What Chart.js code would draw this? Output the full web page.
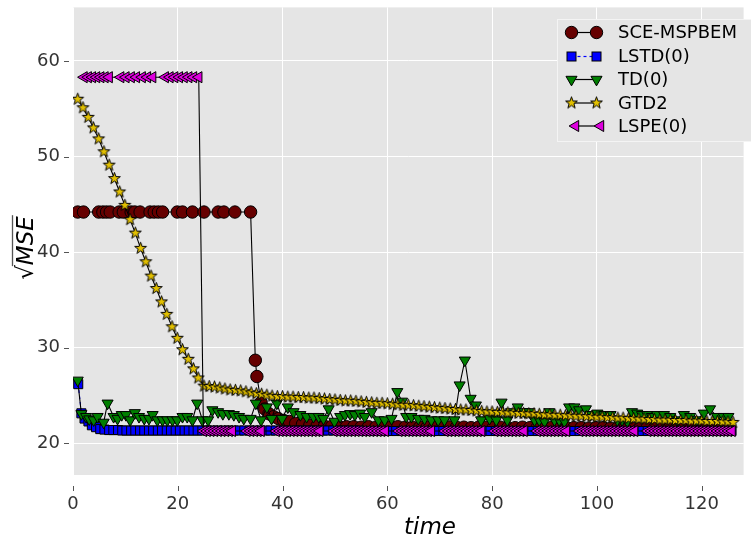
<!DOCTYPE html>
<html>
<head>
<meta charset="utf-8">
<script src="https://cdn.jsdelivr.net/npm/chart.js@4.4.1/dist/chart.umd.min.js"></script>
<style>
  html, body { margin: 0; padding: 0; background: #fff; }
  canvas { display: block; }
</style>
</head>
<body>
<canvas id="chart" width="751" height="539"></canvas>
<script>
// ticks
const xTicks = [0, 20, 40, 60, 80, 100, 120];
const yTicks = [20, 30, 40, 50, 60];

// SCE-MSPBEM
const sceTime = [
  0.9, 2.0, 4.9, 5.7, 6.4, 7.1, 8.8, 9.6, 11.1, 11.8,
  12.8, 14.7, 15.5, 16.3, 17.1, 19.9, 20.9, 22.8, 25.0, 27.7,
  28.8, 30.9, 33.9, 34.8, 35.1, 35.9, 36.6, 37.4, 38.3, 39.2,
  40.2, 41.3, 42.5, 43.8, 45.2, 46.6, 48.0, 49.4, 50.8, 52.2,
  53.6, 55.0, 56.4, 57.8, 59.2, 60.6, 62.0, 63.4, 64.8, 66.2,
  67.6, 69.0, 70.4, 71.8, 73.2, 74.6, 76.0, 77.4, 78.8, 80.2,
  81.6, 83.0, 84.4, 85.8, 87.2, 88.6, 90.0, 91.4, 92.8, 94.2,
  95.6, 97.0, 98.4, 99.8, 101.2, 102.6, 104.0, 105.4, 106.8, 108.2,
  109.6, 111.0, 112.4, 113.8, 115.2, 116.6, 118.0, 119.4, 120.8, 122.2,
  123.6, 125.0
];
const sceMse = [
  44.2, 44.2, 44.2, 44.2, 44.2, 44.2, 44.2, 44.2, 44.2, 44.2,
  44.2, 44.2, 44.2, 44.2, 44.2, 44.2, 44.2, 44.2, 44.2, 44.2,
  44.2, 44.2, 44.2, 28.7, 27.0, 24.3, 23.6, 23.1, 22.8, 22.6,
  22.4, 22.3, 22.1, 22.0, 21.9, 21.85, 21.8, 21.8, 21.75, 21.75,
  21.75, 21.7, 21.75, 21.7, 21.7, 21.7, 21.75, 21.7, 21.7, 21.7,
  21.7, 21.7, 21.65, 21.7, 21.7, 21.7, 21.65, 21.7, 21.7, 21.65,
  21.7, 21.65, 21.65, 21.7, 21.65, 21.65, 21.65, 21.7, 21.65, 21.65,
  21.65, 21.65, 21.6, 21.65, 21.65, 21.6, 21.65, 21.65, 21.6, 21.6,
  21.65, 21.6, 21.6, 21.6, 21.65, 21.6, 21.6, 21.6, 21.6, 21.6,
  21.6, 21.6
];

// LSTD(0)
const lstdTime = [
  1.0, 1.6, 2.2, 2.95, 3.6, 4.4, 5.2, 6.0, 6.9, 7.7,
  8.6, 9.4, 10.2, 11.1, 11.9, 12.8, 13.6, 14.5, 15.3, 16.2,
  17.0, 17.9, 18.7, 19.6, 20.4, 21.3, 22.1, 23.0, 23.8, 24.7,
  25.7, 26.7, 27.7, 28.7, 29.7, 30.7, 31.7, 32.7, 33.7, 34.7,
  35.7, 36.7, 37.7, 38.7, 39.7, 40.7, 41.7, 42.7, 43.7, 44.7,
  45.7, 46.7, 47.7, 48.7, 49.7, 50.7, 51.7, 52.7, 53.7, 54.7,
  55.7, 56.7, 57.7, 58.7, 59.7, 60.7, 61.7, 62.7, 63.7, 64.7,
  65.7, 66.7, 67.7, 68.7, 69.7, 70.7, 71.7, 72.7, 73.7, 74.7,
  75.7, 76.7, 77.7, 78.7, 79.7, 80.7, 81.7, 82.7, 83.7, 84.7,
  85.7, 86.7, 87.7, 88.7, 89.7, 90.7, 91.7, 92.7, 93.7, 94.7,
  95.7, 96.7, 97.7, 98.7, 99.7, 100.7, 101.7, 102.7, 103.7, 104.7,
  105.7, 106.7, 107.7, 108.7, 109.7, 110.7, 111.7, 112.7, 113.7, 114.7,
  115.7, 116.7, 117.7, 118.7, 119.7, 120.7, 121.7, 122.7, 123.7, 124.7,
  125.7
];
const lstdMse = [
  26.2, 23.15, 22.6, 22.3, 21.9, 21.7, 21.5, 21.45, 21.4, 21.4,
  21.4, 21.35, 21.35, 21.35, 21.35, 21.35, 21.35, 21.35, 21.35, 21.35,
  21.35, 21.35, 21.35, 21.35, 21.35, 21.35, 21.35, 21.35, 21.35, 21.35,
  21.35, 21.35, 21.35, 21.35, 21.35, 21.35, 21.35, 21.35, 21.35, 21.35,
  21.35, 21.35, 21.35, 21.35, 21.35, 21.35, 21.35, 21.35, 21.35, 21.35,
  21.35, 21.35, 21.35, 21.35, 21.35, 21.35, 21.35, 21.35, 21.35, 21.35,
  21.3, 21.3, 21.3, 21.3, 21.3, 21.3, 21.3, 21.3, 21.3, 21.3,
  21.3, 21.3, 21.3, 21.3, 21.3, 21.3, 21.3, 21.3, 21.3, 21.3,
  21.3, 21.3, 21.3, 21.3, 21.3, 21.3, 21.3, 21.3, 21.3, 21.3,
  21.3, 21.3, 21.3, 21.3, 21.3, 21.3, 21.3, 21.3, 21.3, 21.3,
  21.3, 21.3, 21.3, 21.3, 21.3, 21.3, 21.3, 21.3, 21.3, 21.3,
  21.3, 21.3, 21.3, 21.3, 21.3, 21.3, 21.3, 21.3, 21.3, 21.3,
  21.3, 21.3, 21.3, 21.3, 21.3, 21.3, 21.3, 21.3, 21.3, 21.3,
  21.3
];

// TD(0)
const tdTime = [
  0.9, 1.6, 2.5, 3.1, 3.95, 4.7, 5.85, 6.6, 7.75, 8.5,
  9.3, 10.1, 10.9, 11.8, 12.6, 13.6, 14.5, 15.2, 16.1, 17.1,
  18.0, 19.0, 19.9, 20.9, 21.8, 22.8, 23.7, 24.7, 25.8, 26.6,
  27.7, 28.6, 29.75, 30.7, 31.7, 32.6, 33.9, 34.9, 35.9, 37.0,
  37.9, 38.9, 39.9, 41.0, 42.1, 43.4, 44.6, 45.9, 46.9, 47.8,
  48.8, 49.9, 51.0, 51.9, 52.9, 53.8, 54.8, 55.7, 57.0, 58.3,
  59.5, 60.8, 61.9, 62.8, 63.6, 64.6, 65.9, 67.1, 68.4, 69.7,
  70.9, 72.8, 73.8, 74.8, 75.9, 76.9, 77.9, 79.5, 80.8, 81.8,
  82.9, 83.6, 84.9, 86.2, 87.1, 88.1, 89.0, 90.0, 90.9, 91.9,
  92.8, 93.8, 94.7, 95.7, 96.6, 97.9, 98.8, 100.1, 101.4, 102.6,
  103.9, 104.8, 105.8, 106.7, 107.7, 108.6, 109.6, 110.5, 111.5, 112.8,
  114.0, 115.3, 116.6, 117.8, 119.1, 120.4, 121.6, 122.9, 124.2, 125.1
];
const tdMse = [
  26.6, 23.1, 22.8, 22.55, 22.45, 22.8, 22.2, 24.2, 22.8, 22.6,
  23.0, 23.0, 22.45, 23.2, 22.8, 22.6, 22.6, 23.0, 22.45, 22.45,
  22.45, 22.45, 22.45, 22.8, 22.8, 22.45, 24.2, 22.45, 22.45, 23.5,
  23.3, 23.1, 23.1, 23.0, 22.8, 22.6, 22.6, 24.2, 22.45, 23.8,
  22.6, 24.2, 22.6, 23.8, 23.3, 23.0, 22.8, 22.8, 22.8, 22.6,
  23.6, 22.3, 22.8, 23.0, 23.1, 23.0, 23.15, 22.8, 23.3, 22.45,
  22.45, 22.6, 25.4, 24.4, 22.8, 22.8, 22.6, 22.6, 22.45, 22.45,
  22.45, 22.45, 26.1, 28.7, 24.7, 24.0, 22.45, 22.6, 22.45, 24.3,
  22.45, 23.3, 23.8, 23.3, 23.3, 22.45, 22.45, 22.3, 23.3, 22.45,
  22.45, 22.3, 23.8, 23.8, 23.5, 23.6, 23.0, 23.15, 23.0, 23.0,
  22.45, 22.45, 22.3, 23.3, 23.15, 23.0, 23.0, 22.8, 23.0, 23.0,
  22.8, 22.45, 23.0, 22.8, 22.45, 23.15, 23.6, 22.8, 22.8, 22.8
];

// GTD2
const gtdTime = [
  0.9, 1.9, 2.9, 3.9, 4.9, 5.9, 6.9, 7.9, 8.9, 9.9,
  10.9, 11.9, 12.9, 13.9, 14.9, 15.9, 16.9, 17.9, 18.9, 19.9,
  20.9, 22.0, 23.0, 23.9, 25.0, 26, 27, 28, 29, 30,
  31, 32, 33, 34, 35, 36, 37, 38, 39, 40,
  41, 42, 43, 44, 45, 46, 47, 48, 49, 50,
  51, 52, 53, 54, 55, 56, 57, 58, 59, 60,
  61, 62, 63, 64, 65, 66, 67, 68, 69, 70,
  71, 72, 73, 74, 75, 76, 77, 78, 79, 80,
  81, 82, 83, 84, 85, 86, 87, 88, 89, 90,
  91, 92, 93, 94, 95, 96, 97, 98, 99, 100,
  101, 102, 103, 104, 105, 106, 107, 108, 109, 110,
  111, 112, 113, 114, 115, 116, 117, 118, 119, 120,
  121, 122, 123, 124, 125, 126
];
const gtdMse = [
  56.0, 55.1, 54.1, 53.0, 51.85, 50.5, 49.1, 47.7, 46.3, 44.9,
  43.4, 42.0, 40.4, 39.0, 37.5, 36.2, 34.8, 33.5, 32.2, 31.0,
  29.8, 28.8, 27.8, 26.85, 26.0, 25.95, 25.9, 25.8, 25.7, 25.6,
  25.55, 25.5, 25.4, 25.3, 25.2, 25.15, 25.05, 24.95, 24.9, 24.9,
  24.85, 24.85, 24.8, 24.8, 24.75, 24.75, 24.7, 24.65, 24.6, 24.55,
  24.5, 24.45, 24.45, 24.4, 24.35, 24.3, 24.25, 24.2, 24.2, 24.15,
  24.1, 24.05, 24.0, 24.0, 23.95, 23.9, 23.85, 23.8, 23.75, 23.7,
  23.65, 23.6, 23.55, 23.5, 23.5, 23.45, 23.4, 23.35, 23.3, 23.3,
  23.25, 23.25, 23.2, 23.2, 23.15, 23.15, 23.1, 23.1, 23.05, 23.0,
  23.0, 22.95, 22.95, 22.9, 22.9, 22.85, 22.85, 22.8, 22.8, 22.75,
  22.75, 22.7, 22.7, 22.65, 22.65, 22.6, 22.6, 22.55, 22.55, 22.5,
  22.5, 22.45, 22.45, 22.45, 22.4, 22.4, 22.4, 22.35, 22.35, 22.35,
  22.3, 22.3, 22.3, 22.25, 22.25, 22.2
];

// LSPE(0)
const lspeTime = [
  2.1, 2.9, 3.7, 4.5, 5.3, 6.1, 6.9,
  9.1, 10.1, 11.1, 12.1, 13.2, 14.2, 15.2,
  17.6, 18.5, 19.4, 20.3, 21.2, 22.1, 23.0, 24.0,
  24.9, 25.6, 26.3, 27.0, 27.7, 28.4, 29.1, 29.8, 30.4,
  33.2, 33.9, 34.6, 35.3, 35.9,
  38.8, 39.5, 40.2, 40.9, 41.6, 42.3, 43.0, 43.7, 44.4, 45.1, 45.8, 46.5, 47.1,
  49.8, 50.5, 51.2, 51.9, 52.6, 53.3, 54.0, 54.7, 55.4, 56.1, 56.8, 57.5, 58.2, 58.9, 59.6,
  62.2, 62.9, 63.6, 64.3, 65.0, 65.7, 66.4, 67.1, 67.8, 68.4,
  71.0, 71.7, 72.4, 73.1, 73.8, 74.5, 75.2, 75.9, 76.6, 77.3, 78.0,
  80.5, 81.2, 81.9, 82.6, 83.3, 84.0, 84.7, 85.4, 86.1,
  88.6, 89.3, 90.0, 90.7, 91.4, 92.1, 92.8, 93.5, 94.2,
  96.7, 97.4, 98.1, 98.8, 99.5, 100.2, 100.9, 101.6, 102.3, 103.0, 103.7, 104.4, 105.1, 105.8, 106.5, 107.2,
  109.7, 110.4, 111.1, 111.8, 112.5, 113.2, 113.9, 114.6, 115.3, 116.0, 116.7, 117.4,
  118.1, 118.8, 119.5, 120.2, 120.9, 121.6, 122.3, 123.0, 123.7, 124.4, 125.1, 125.8
];
const lspeMse = [
  58.3, 58.3, 58.3, 58.3, 58.3, 58.3, 58.3,
  58.3, 58.3, 58.3, 58.3, 58.3, 58.3, 58.3,
  58.3, 58.3, 58.3, 58.3, 58.3, 58.3, 58.3, 58.3,
  21.3, 21.3, 21.3, 21.3, 21.3, 21.3, 21.3, 21.3, 21.3,
  21.3, 21.3, 21.3, 21.3, 21.3,
  21.3, 21.3, 21.3, 21.3, 21.3, 21.3, 21.3, 21.3, 21.3, 21.3, 21.3, 21.3, 21.3,
  21.3, 21.3, 21.3, 21.3, 21.3, 21.3, 21.3, 21.3, 21.3, 21.3, 21.3, 21.3, 21.3, 21.3, 21.3,
  21.3, 21.3, 21.3, 21.3, 21.3, 21.3, 21.3, 21.3, 21.3, 21.3,
  21.3, 21.3, 21.3, 21.3, 21.3, 21.3, 21.3, 21.3, 21.3, 21.3, 21.3,
  21.3, 21.3, 21.3, 21.3, 21.3, 21.3, 21.3, 21.3, 21.3,
  21.3, 21.3, 21.3, 21.3, 21.3, 21.3, 21.3, 21.3, 21.3,
  21.3, 21.3, 21.3, 21.3, 21.3, 21.3, 21.3, 21.3, 21.3, 21.3, 21.3, 21.3, 21.3, 21.3, 21.3, 21.3,
  21.3, 21.3, 21.3, 21.3, 21.3, 21.3, 21.3, 21.3, 21.3, 21.3, 21.3, 21.3,
  21.3, 21.3, 21.3, 21.3, 21.3, 21.3, 21.3, 21.3, 21.3, 21.3, 21.3, 21.3
];

const MAROON = '#660000';
const BLUE = '#0000ff';
const GREEN = '#007f00';
const GOLD = '#e2c000';
const MAGENTA = '#dd00dd';
const TRI_R = 6.4;

// star marker as a small canvas (chart.js 'star' is only a cross)
function makeStar(outer, inner, fill) {
    const size = 15;
    const c = document.createElement('canvas');
    c.width = size; c.height = size;
    const g = c.getContext('2d');
    g.translate(size / 2, size / 2);
    g.beginPath();
    for (let i = 0; i < 10; i++) {
        const r = i % 2 === 0 ? outer : inner;
        const a = -Math.PI / 2 + i * Math.PI / 5;
        const px = Math.cos(a) * r, py = Math.sin(a) * r;
        if (i === 0) g.moveTo(px, py); else g.lineTo(px, py);
    }
    g.closePath();
    g.fillStyle = fill;
    g.fill();
    g.lineWidth = 1;
    g.strokeStyle = '#000';
    g.stroke();
    return c;
}
const starImg = makeStar(6.2, 2.5, GOLD);

function toPoints(xs, ys) {
    return xs.map((x, i) => ({ x: x, y: ys[i] }));
}

function triPath(ctx, x, y, r, deg) {
    let rad = deg * Math.PI / 180;
    ctx.beginPath();
    ctx.moveTo(x + Math.sin(rad) * r, y - Math.cos(rad) * r);
    rad += 2 * Math.PI / 3;
    ctx.lineTo(x + Math.sin(rad) * r, y - Math.cos(rad) * r);
    rad += 2 * Math.PI / 3;
    ctx.lineTo(x + Math.sin(rad) * r, y - Math.cos(rad) * r);
    ctx.closePath();
}

function legendMarker(ctx, kind, x, y) {
    ctx.lineWidth = 1;
    ctx.strokeStyle = '#000';
    if (kind === 'circle') {
        ctx.beginPath(); ctx.arc(x, y, 6.2, 0, Math.PI * 2);
        ctx.fillStyle = MAROON; ctx.fill(); ctx.stroke();
    } else if (kind === 'square') {
        ctx.fillStyle = BLUE;
        ctx.fillRect(x - 4.5, y - 4.5, 9, 9); ctx.strokeRect(x - 4.5, y - 4.5, 9, 9);
    } else if (kind === 'down') {
        triPath(ctx, x, y, TRI_R, 180);
        ctx.fillStyle = GREEN; ctx.fill(); ctx.stroke();
    } else if (kind === 'left') {
        triPath(ctx, x, y, TRI_R, 270);
        ctx.fillStyle = MAGENTA; ctx.fill(); ctx.stroke();
    } else if (kind === 'star') {
        ctx.drawImage(starImg, x - starImg.width / 2, y - starImg.height / 2);
    }
}

const legendRows = [
    { label: 'SCE-MSPBEM', kind: 'circle', y: 32.5, x1: 571.5, x2: 596.5, line: '#000', dash: [] },
    { label: 'LSTD(0)', kind: 'square', y: 56.5, x1: 571.5, x2: 596.5, line: BLUE, dash: [3, 3] },
    { label: 'TD(0)', kind: 'down', y: 79.5, x1: 571.5, x2: 596.5, line: '#000', dash: [] },
    { label: 'GTD2', kind: 'star', y: 103, x1: 571.5, x2: 596.5, line: '#000', dash: [] },
    { label: 'LSPE(0)', kind: 'left', y: 126, x1: 575.5, x2: 600.5, line: '#000', dash: [] }
];

const decor = {
    id: 'decor',
    beforeDraw(chart) {
        const { ctx, chartArea: a } = chart;
        ctx.save();
        ctx.fillStyle = '#ffffff';
        ctx.fillRect(0, 0, chart.width, chart.height);
        ctx.fillStyle = '#e5e5e5';
        ctx.fillRect(a.left, a.top, a.right - a.left, a.bottom - a.top);
        ctx.restore();
    },
    afterDraw(chart) {
        const { ctx, scales } = chart;
        ctx.save();
        // small detached tick marks
        ctx.strokeStyle = '#555';
        ctx.lineWidth = 1;
        xTicks.forEach(v => {
            const px = Math.round(scales.x.getPixelForValue(v)) + 0.5;
            ctx.beginPath(); ctx.moveTo(px, 486); ctx.lineTo(px, 491); ctx.stroke();
        });
        yTicks.forEach(v => {
            const py = Math.round(scales.y.getPixelForValue(v)) + 0.5;
            ctx.beginPath(); ctx.moveTo(64, py); ctx.lineTo(69, py); ctx.stroke();
        });

        // axis titles
        ctx.fillStyle = '#000';
        ctx.font = 'italic 23px "DejaVu Sans"';
        ctx.textAlign = 'center';
        ctx.textBaseline = 'alphabetic';
        ctx.fillText('time', 430, 534);

        ctx.save();
        ctx.translate(33, 248);
        ctx.rotate(-Math.PI / 2);
        ctx.textAlign = 'left';
        ctx.font = '23px "DejaVu Sans"';
        const wr = ctx.measureText('√').width;
        ctx.font = 'italic 23px "DejaVu Sans"';
        const wm = ctx.measureText('MSE').width;
        const x0 = -(wr + wm) / 2;
        ctx.font = '23px "DejaVu Sans"';
        ctx.fillText('√', x0, 0);
        ctx.font = 'italic 23px "DejaVu Sans"';
        ctx.fillText('MSE', x0 + wr, 0);
        ctx.lineWidth = 1.3;
        ctx.beginPath();
        ctx.moveTo(x0 + wr - 1, -20.5);
        ctx.lineTo(x0 + wr + wm + 1, -20.5);
        ctx.stroke();
        ctx.restore();

        // legend
        ctx.fillStyle = '#e5e5e5';
        ctx.fillRect(557.5, 19.5, 200, 122);
        ctx.strokeStyle = '#f4f4f4';
        ctx.lineWidth = 1;
        ctx.strokeRect(557.5, 19.5, 200, 122);
        legendRows.forEach(r => {
            ctx.save();
            ctx.strokeStyle = r.line;
            ctx.lineWidth = 1.2;
            ctx.setLineDash(r.dash);
            ctx.beginPath(); ctx.moveTo(r.x1, r.y); ctx.lineTo(r.x2, r.y); ctx.stroke();
            ctx.restore();
            legendMarker(ctx, r.kind, r.x1, r.y);
            legendMarker(ctx, r.kind, r.x2, r.y);
            ctx.fillStyle = '#000';
            ctx.font = '18px "DejaVu Sans"';
            ctx.textAlign = 'left';
            ctx.textBaseline = 'middle';
            ctx.fillText(r.label, 618, r.y + 1);
        });
        ctx.restore();
    }
};

const tickFont = { family: 'DejaVu Sans', size: 18 };

new Chart(document.getElementById('chart'), {
    type: 'scatter',
    data: {
        datasets: [
            {
                label: 'SCE-MSPBEM', data: toPoints(sceTime, sceMse), order: 5,
                showLine: true, borderColor: '#000', borderWidth: 1.1,
                pointStyle: 'circle', pointRadius: 6.2, pointBackgroundColor: MAROON,
                pointBorderColor: '#000', pointBorderWidth: 1
            },
            {
                label: 'LSTD(0)', data: toPoints(lstdTime, lstdMse), order: 4,
                showLine: true, borderColor: BLUE, borderWidth: 1.1, borderDash: [3, 3],
                pointStyle: 'rect', pointRadius: 6.4, pointBackgroundColor: BLUE,
                pointBorderColor: '#000', pointBorderWidth: 1
            },
            {
                label: 'TD(0)', data: toPoints(tdTime, tdMse), order: 3,
                showLine: true, borderColor: '#000', borderWidth: 1.1,
                pointStyle: 'triangle', pointRotation: 180, pointRadius: TRI_R,
                pointBackgroundColor: GREEN, pointBorderColor: '#000', pointBorderWidth: 1
            },
            {
                label: 'GTD2', data: toPoints(gtdTime, gtdMse), order: 2,
                showLine: true, borderColor: '#000', borderWidth: 1.1,
                pointStyle: starImg, pointRadius: 6
            },
            {
                label: 'LSPE(0)', data: toPoints(lspeTime, lspeMse), order: 1,
                showLine: true, borderColor: '#000', borderWidth: 1.1,
                pointStyle: 'triangle', pointRotation: 270, pointRadius: TRI_R,
                pointBackgroundColor: MAGENTA, pointBorderColor: '#000', pointBorderWidth: 1
            }
        ]
    },
    options: {
        responsive: false,
        animation: false,
        devicePixelRatio: 1,
        events: [],
        layout: { padding: { top: 5, left: 0, right: 0, bottom: 0 } },
        plugins: { legend: { display: false }, tooltip: { enabled: false } },
        scales: {
            x: {
                type: 'linear', min: 0, max: 128,
                afterBuildTicks: s => { s.ticks = xTicks.map(v => ({ value: v })); },
                afterFit: s => { s.height = 64; s.paddingLeft = 0; s.paddingRight = 0; },
                grid: { color: '#ffffff', lineWidth: 1, drawTicks: false },
                border: { display: false },
                ticks: { font: tickFont, color: '#333', padding: 19, maxRotation: 0, autoSkip: false }
            },
            y: {
                type: 'linear', min: 16.7, max: 65.6,
                afterBuildTicks: s => { s.ticks = yTicks.map(v => ({ value: v })); },
                afterFit: s => { s.width = 73; s.paddingTop = 0; s.paddingBottom = 0; },
                grid: { color: '#ffffff', lineWidth: 1, drawTicks: false },
                border: { display: false },
                ticks: { font: tickFont, color: '#333', padding: 13 }
            }
        }
    },
    plugins: [decor]
});
</script>
</body>
</html>
